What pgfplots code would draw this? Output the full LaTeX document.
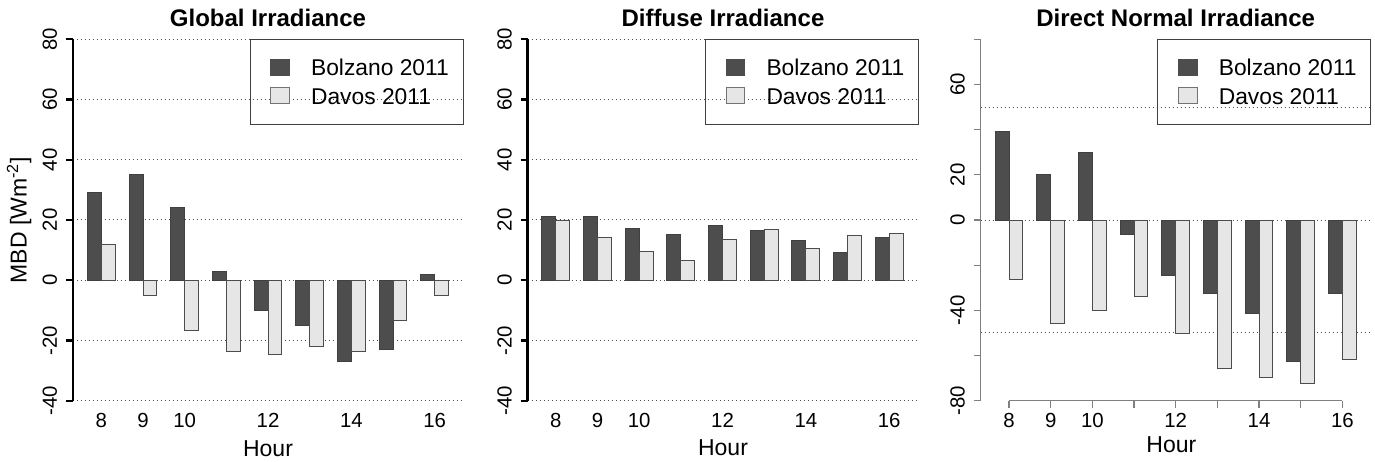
\documentclass[border=0pt]{standalone}
\usepackage{fontspec}
\setmainfont{Liberation Sans}
\usepackage{pgfplots}
\pgfplotsset{compat=1.18}
\definecolor{darkbar}{HTML}{4D4D4D}
\definecolor{lightbar}{HTML}{E6E6E6}
\definecolor{gridc}{HTML}{505050}
\newcommand\tickfont{\fontsize{10.2bp}{12bp}\selectfont}
\newcommand\labfont{\fontsize{11.5bp}{13bp}\selectfont}
\newcommand\legfont{\fontsize{11.4bp}{13bp}\selectfont}
\newcommand\titfont{\bfseries\fontsize{12bp}{14bp}\selectfont}
\pgfplotsset{
  base/.style={
    scale only axis, width=195bp, height=180.7bp,
    anchor=south west,
    xmin=7.32, xmax=16.68,
    axis lines*=left,
    x axis line style={draw=none},
    xtick={8,...,16},
    xticklabels={8,9,10,,12,,14,,16},
    tick align=outside,
    major tick length=3.5bp,
    tick label style={font=\tickfont},
    xticklabel style={anchor=north, inner sep=0pt},
    xticklabel shift=2.8bp,
    yticklabel style={rotate=90, anchor=base, inner sep=0pt},
    yticklabel shift=4.5bp,
    major grid style={gridc, line width=0.5bp, dash pattern=on 0.5bp off 1.5bp},
    clip=false,
  },
  thickax/.style={
    y axis line style={black, line width=1.1bp},
    ytick style={black, line width=1.1bp},
    xtick style={draw=none},
    ymin=-40, ymax=80,
    ytick={-40,-20,...,80},
    yticklabels={-40,-20,0,20,40,60,80},
    ymajorgrids=true,
  },
  darkb/.style={ybar, bar width=0.3333, bar shift=-0.16667, fill=darkbar, draw=black!75, line width=0.5bp},
  lightb/.style={ybar, bar width=0.3333, bar shift=0.16667, fill=lightbar, draw=black!70, line width=0.5bp},
}
\newcommand{\leg}[2]{%
  \begin{scope}[shift={(#1bp,#2bp)}, x=1bp, y=1bp]
    \draw[black!75, line width=0.5bp] (-106.5,-42.5) rectangle (0,0);
    \filldraw[fill=darkbar, draw=black!70, line width=0.5bp] (-96.15,-18) rectangle (-86.85,-10);
    \filldraw[fill=lightbar, draw=black!55, line width=0.5bp] (-96.15,-32.3) rectangle (-86.85,-24.3);
    \node[anchor=base west, inner sep=0pt, font=\legfont] at (-76.15,-18.35) {Bolzano 2011};
    \node[anchor=base west, inner sep=0pt, font=\legfont] at (-76.15,-32.85) {Davos 2011};
  \end{scope}}
\begin{document}
\begin{tikzpicture}
\useasboundingbox (0,0) rectangle (687.5bp,231bp);
% Panel 1
\begin{axis}[base, thickax, at={(36.5bp,30.65bp)}]
\addplot[darkb] coordinates {(8,29) (9,35) (10,24) (11,3) (12,-10) (13,-15) (14,-27) (15,-23) (16,2)};
\addplot[lightb] coordinates {(8,12) (9,-5) (10,-16.7) (11,-23.8) (12,-24.6) (13,-22.1) (14,-23.8) (15,-13.5) (16,-5.1)};
\end{axis}
% Panel 2
\begin{axis}[base, thickax, at={(263.75bp,30.65bp)}]
\addplot[darkb] coordinates {(8,21.2) (9,21.2) (10,17.2) (11,15.2) (12,18.2) (13,16.4) (14,13.1) (15,9.1) (16,14.3)};
\addplot[lightb] coordinates {(8,19.7) (9,14.3) (10,9.7) (11,6.4) (12,13.6) (13,16.7) (14,10.6) (15,14.8) (16,15.5)};
\end{axis}
% Panel 3
\begin{axis}[base, at={(490.35bp,30.65bp)},
  ymin=-80, ymax=80,
  ytick={-80,-60,...,80},
  yticklabels={-80,,-40,,0,20,,60,},
  y axis line style={black!50, line width=0.6bp},
  ytick style={black!50, line width=0.6bp},
  xtick style={black!50, line width=0.6bp},
  extra y ticks={-50,0,50},
  extra y tick labels={},
  extra y tick style={ymajorgrids=true, major tick length=0pt},
]
\addplot[darkb] coordinates {(8,39) (9,20) (10,29.9) (11,-6.4) (12,-24.6) (13,-32.6) (14,-41.5) (15,-62.5) (16,-32.6)};
\addplot[lightb] coordinates {(8,-26.4) (9,-45.6) (10,-40) (11,-33.8) (12,-50.1) (13,-65.8) (14,-69.8) (15,-72.4) (16,-61.8)};
\draw[black!50, line width=0.6bp] (axis cs:8,-80) -- (axis cs:16,-80);
\end{axis}
% legends
\leg{231.5}{211.35}
\leg{459.2}{211.35}
\leg{685.35}{211.35}
% titles
\node[anchor=base, font=\titfont, inner sep=0pt] at (134bp,217.65bp) {Global Irradiance};
\node[anchor=base, font=\titfont, inner sep=0pt] at (361.5bp,217.65bp) {Diffuse Irradiance};
\node[anchor=base, font=\titfont, inner sep=0pt] at (587.85bp,217.65bp) {Direct Normal Irradiance};
% x labels
\node[anchor=base, font=\labfont, inner sep=0pt] at (134bp,3bp) {Hour};
\node[anchor=base, font=\labfont, inner sep=0pt] at (361.5bp,3.3bp) {Hour};
\node[anchor=base, font=\labfont, inner sep=0pt] at (585.7bp,5bp) {Hour};
% y label
\node[anchor=base, rotate=90, font=\labfont, inner sep=0pt] at (13.35bp,121bp) {MBD [Wm\textsuperscript{-2}]};
\end{tikzpicture}
\end{document}
